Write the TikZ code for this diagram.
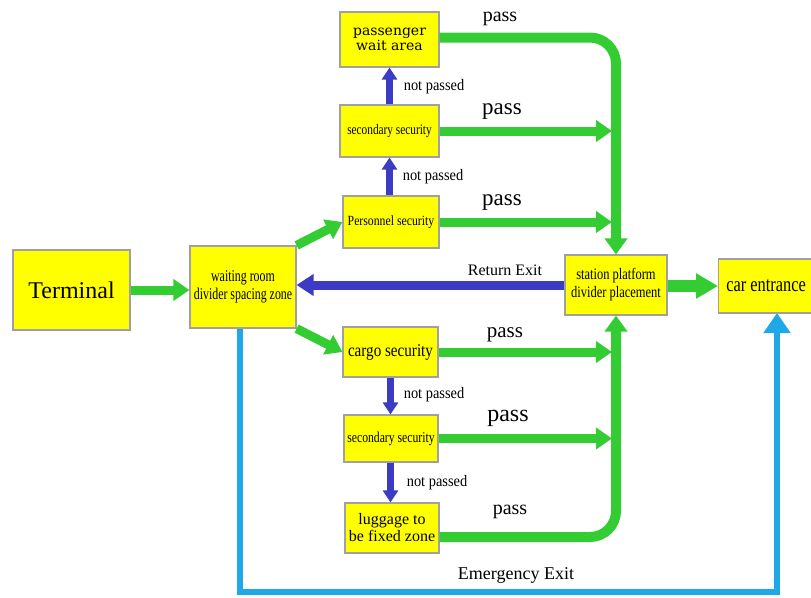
\documentclass[tikz,border=0pt]{standalone}
\usepackage{fontspec}
\setmainfont{Liberation Serif}
\newfontfamily\condA[FakeStretch=0.78]{Liberation Serif}
\newfontfamily\condB[FakeStretch=0.84]{Liberation Serif}
\newfontfamily\condC[FakeStretch=0.9]{Liberation Serif}
\newfontfamily\condD[FakeStretch=0.72]{Liberation Serif}
\newfontfamily\wideserif{DejaVu Serif}
\usetikzlibrary{arrows.meta,calc}
\definecolor{boxyellow}{HTML}{FFFF00}
\definecolor{boxedge}{HTML}{A0A0A0}
\definecolor{gr}{HTML}{33CC33}
\definecolor{db}{HTML}{3B3BC4}
\definecolor{lb}{HTML}{1EA8E8}
\begin{document}
\begin{tikzpicture}[x=1pt,y=-1pt,
  box/.style={draw=boxedge,line width=1.2pt,fill=boxyellow,align=center,inner sep=1pt},
  garrow/.style={draw=gr,line width=9pt,-{Triangle[width=21pt,length=16pt]}},
  gline/.style={draw=gr,line width=10pt,rounded corners=26pt,-{Triangle[width=22pt,length=16pt]}},
  barrow/.style={draw=db,line width=7pt,-{Triangle[width=15pt,length=12pt]}},
  lbarrow/.style={draw=lb,line width=6pt,-{Triangle[width=26pt,length=20pt]}},
  lbl/.style={inner sep=0pt,anchor=center}]
\useasboundingbox (0,0) rectangle (811,597);
\fill[white] (0,0) rectangle (811,597);

% emergency exit (behind)
\coordinate (eb) at (500,592);
\coordinate (es) at (240,328);
\coordinate (ee) at (777,313);
\draw[lbarrow] (es) |- (eb) -| (ee);

% boxes
\node[box,minimum width=117pt,minimum height=80pt,font=\fontsize{24}{26}\selectfont] (term) at (71.5,290) {Terminal};
\node[box,minimum width=106pt,minimum height=82pt,font=\condD\fontsize{16.5}{18}\selectfont] (wait) at (243,287) {waiting room\\divider spacing zone};
\node[box,minimum width=99pt,minimum height=55pt,font=\wideserif\fontsize{14}{15}\selectfont] (pwa) at (389.5,39.5) {passenger\\wait area};
\node[box,minimum width=99pt,minimum height=52pt,font=\condA\fontsize{14.5}{16}\selectfont] (sec1) at (389.5,131) {secondary security};
\node[box,minimum width=96pt,minimum height=52pt,font=\condB\fontsize{14}{16}\selectfont] (pers) at (391,222) {Personnel security};
\node[box,minimum width=102pt,minimum height=60pt,font=\condA\fontsize{16}{18}\selectfont] (stat) at (616,285) {station platform\\divider placement};
\node[box,minimum width=95pt,minimum height=54pt,anchor=west,font=\condA\fontsize{21}{22}\selectfont] (car) at (718,286) {car entrance};
\node[box,minimum width=95pt,minimum height=50pt,font=\condB\fontsize{18}{19}\selectfont] (cargo) at (390.5,352) {cargo security};
\node[box,minimum width=94pt,minimum height=47pt,font=\condA\fontsize{15}{16}\selectfont] (sec2) at (391,438.5) {secondary security};
\node[box,minimum width=94pt,minimum height=50pt,font=\fontsize{16}{17}\selectfont] (lug) at (392,528) {luggage to\\be fixed zone};

% coordinate for the vertical collector line
\coordinate (vl) at (612,0);

% green arrows
\draw[garrow] (term.east) -- (wait.west |- term.east);
\draw[garrow] (wait.north east) -- (pers.west);
\draw[garrow] (wait.south east) -- (cargo.west);
\draw[garrow] (sec1.east) -- (sec1.east -| vl);
\draw[garrow] (pers.east) -- (pers.east -| vl);
\draw[garrow] (cargo.east) -- (cargo.east -| vl);
\draw[garrow] (sec2.east) -- (sec2.east -| vl);
\draw[gline] ($(pwa.east)+(0,-2)$) -| (stat.north);
\draw[gline] ($(lug.east)+(0,9)$) -| (stat.south);
\draw[draw=gr,line width=12pt,-{Triangle[width=24pt,length=22pt]}] (stat.east |- car.west) -- (car.west);

% blue arrows
\draw[barrow] (sec1.north) -- (sec1.north |- pwa.south);
\draw[barrow] (sec1.south |- pers.north) -- (sec1.south);
\draw[barrow] (cargo.south) -- (cargo.south |- sec2.north);
\draw[barrow] (cargo.south |- sec2.south) -- (cargo.south |- lug.north);
\draw[draw=db,line width=9pt,-{Triangle[width=21pt,length=17pt]}] (stat.west) -- (stat.west -| wait.east);

% labels
\node[lbl] (p1) at (500,19) {\fontsize{20}{20}\selectfont pass};
\node[lbl] (p2) at (502,112) {\fontsize{23}{23}\selectfont pass};
\node[lbl] (p3) at (502,203) {\fontsize{23}{23}\selectfont pass};
\node[lbl] (p4) at (505,335) {\fontsize{21}{21}\selectfont pass};
\node[lbl] (p5) at (508,418) {\fontsize{24}{24}\selectfont pass};
\node[lbl] (p6) at (510,512) {\fontsize{20}{20}\selectfont pass};
\node[lbl] (n1) at (434,87) {\condC\fontsize{16}{16}\selectfont not passed};
\node[lbl] (n2) at (433,177) {\condC\fontsize{16}{16}\selectfont not passed};
\node[lbl] (n3) at (434,395) {\condC\fontsize{16}{16}\selectfont not passed};
\node[lbl] (n4) at (437,483) {\condC\fontsize{16}{16}\selectfont not passed};
\node[lbl] (ret) at (505,270) {\fontsize{16}{16}\selectfont Return Exit};
\node[lbl] (emg) at (516,575) {\fontsize{18}{18}\selectfont Emergency Exit};
\end{tikzpicture}
\end{document}
